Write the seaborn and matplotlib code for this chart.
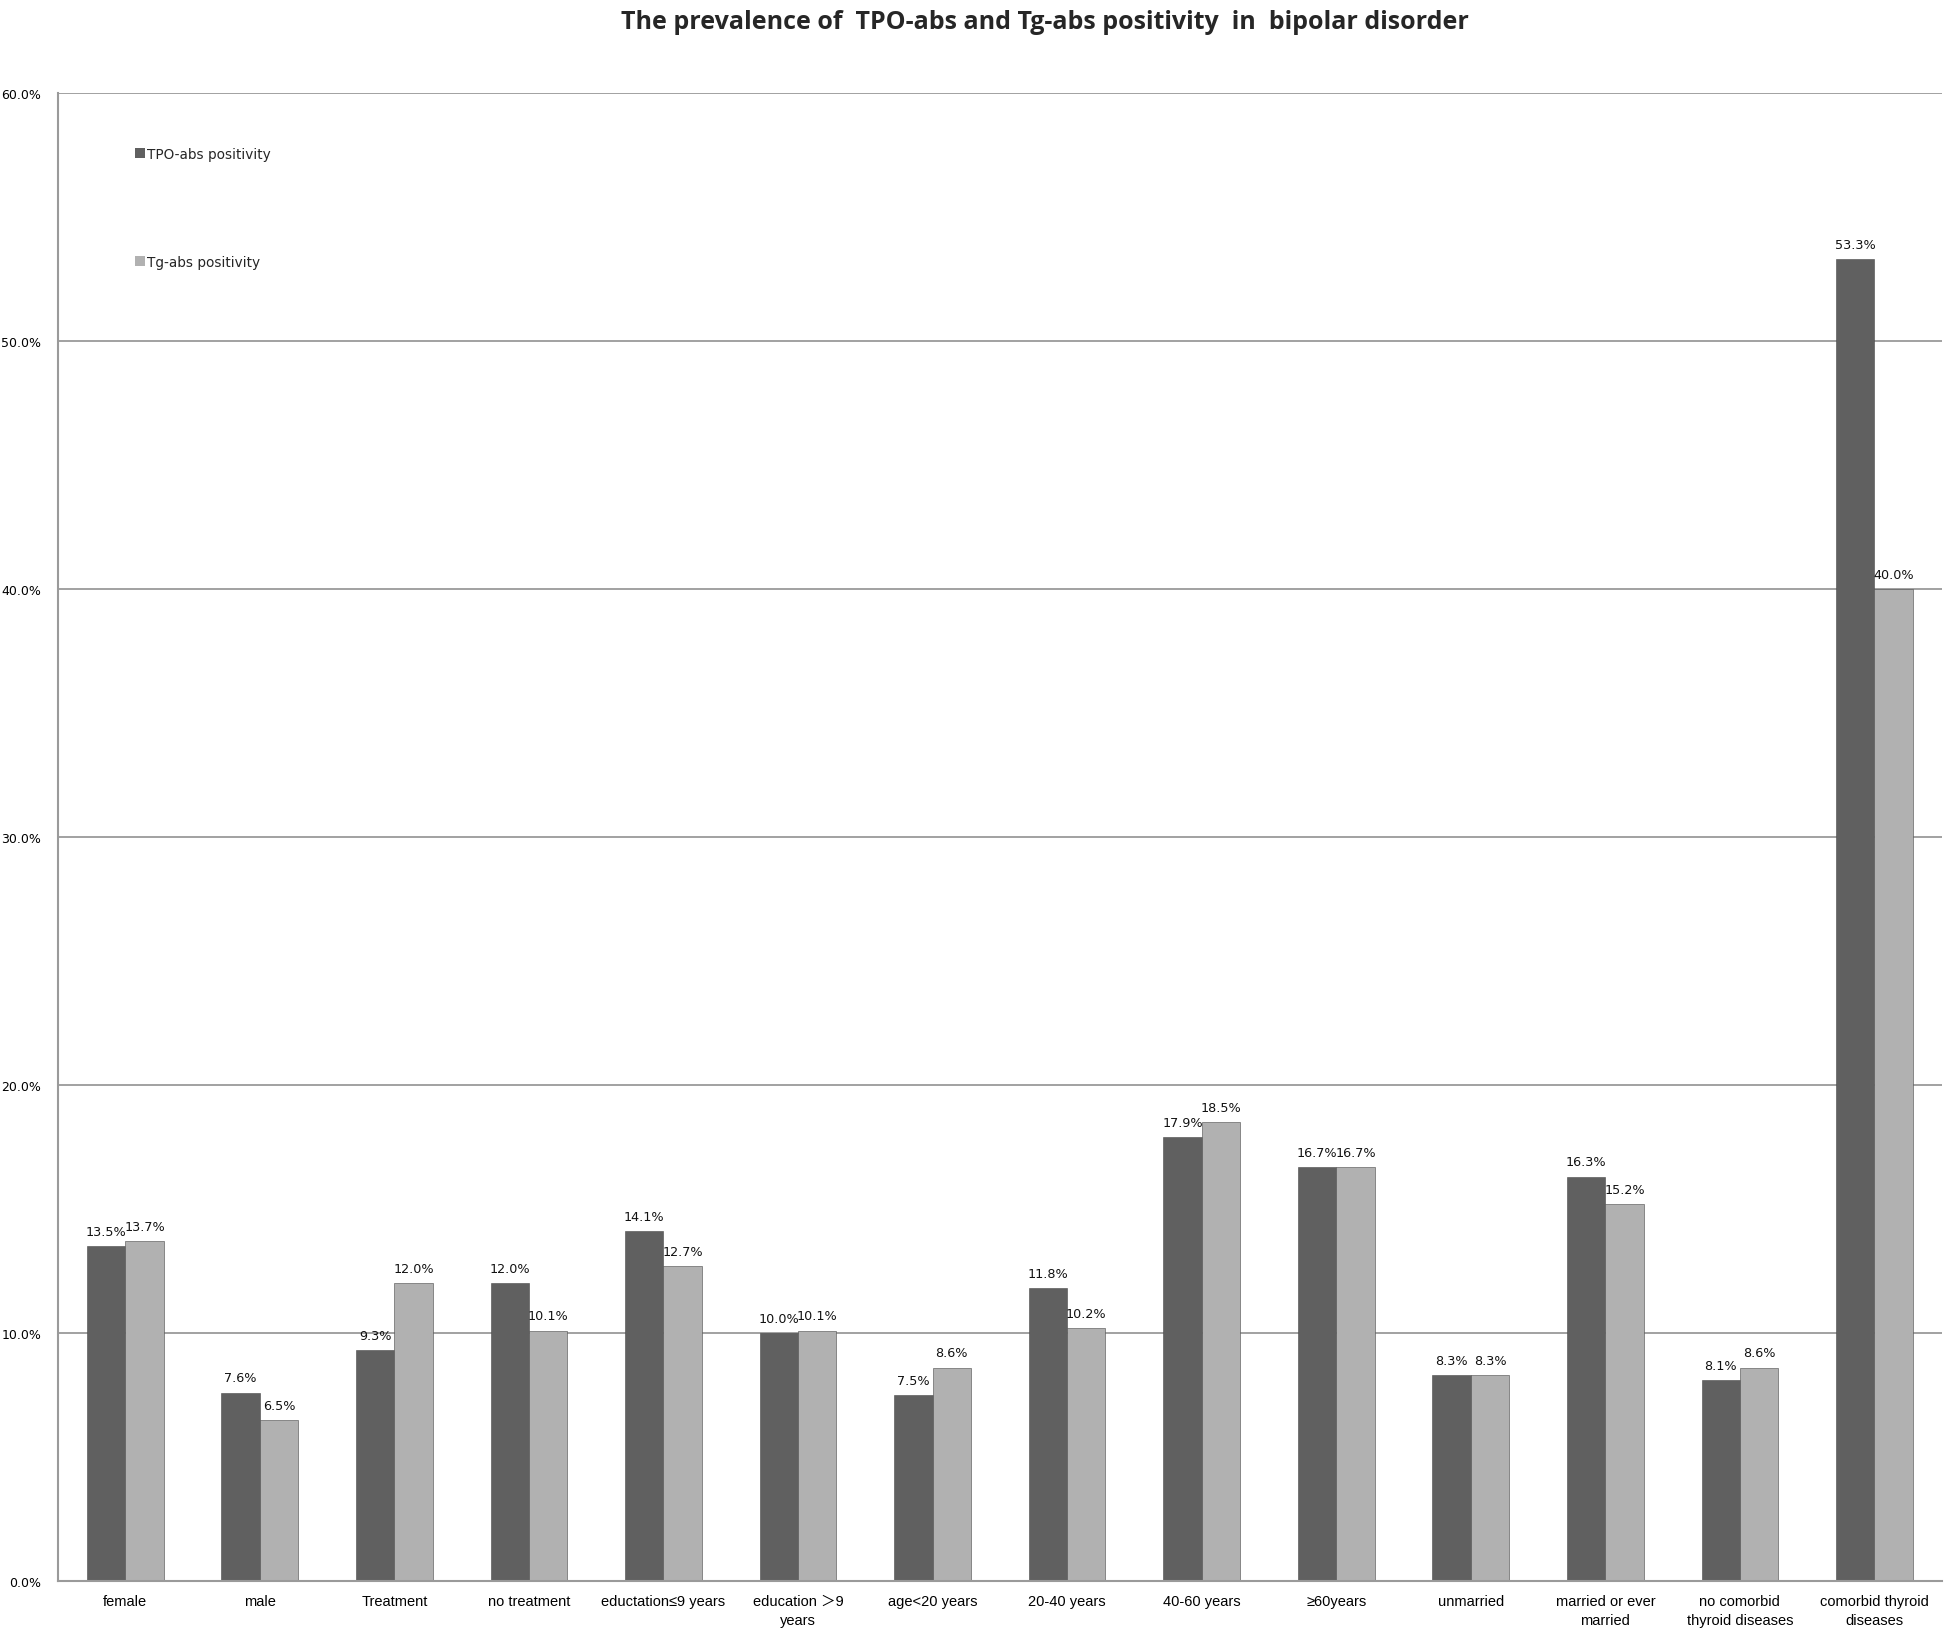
import matplotlib
matplotlib.use("Agg")
import matplotlib.pyplot as plt
import seaborn as sns
import pandas as pd
from matplotlib.patches import Patch
from matplotlib.ticker import FuncFormatter, MultipleLocator
from matplotlib import font_manager

categories = [
    "female", "male", "Treatment", "no treatment", "eductation≤9 years",
    "education ＞9\nyears", "age<20 years", "20-40 years", "40-60 years",
    "≥60years", "unmarried", "married or ever\nmarried",
    "no comorbid\nthyroid diseases", "comorbid thyroid\ndiseases",
]
tpo_values = [13.5, 7.6, 9.3, 12.0, 14.1, 10.0, 7.5, 11.8, 17.9, 16.7, 8.3, 16.3, 8.1, 53.3]
tg_values = [13.7, 6.5, 12.0, 10.1, 12.7, 10.1, 8.6, 10.2, 18.5, 16.7, 8.3, 15.2, 8.6, 40.0]
series_names = ["TPO-abs positivity", "Tg-abs positivity"]
title = "The prevalence of  TPO-abs and Tg-abs positivity  in  bipolar disorder"

df = pd.DataFrame({
    "category": categories * 2,
    "series": [series_names[0]] * len(categories) + [series_names[1]] * len(categories),
    "value": tpo_values + tg_values,
})

sns.set_theme(style="white")
plt.rcParams["font.family"] = ["DejaVu Sans"]

installed = {f.name for f in font_manager.fontManager.ttflist}
narrow = "Liberation Sans Narrow" if "Liberation Sans Narrow" in installed else "Liberation Sans"
cat_family = [narrow, "DejaVu Sans", "Noto Sans CJK SC"]

colors = ["#606060", "#b1b1b1"]
fig = plt.figure(figsize=(19.46, 16.33), dpi=100)
ax = fig.add_axes([0.0298, 0.0312, 0.968, 0.9112])

sns.barplot(data=df, x="category", y="value", hue="series", hue_order=series_names,
            order=categories, palette=colors, width=0.57, ax=ax, legend=False,
            edgecolor="#4a4a4a", linewidth=0.4, saturation=1)

ax.set_ylim(0, 60)
ax.set_xlim(-0.5, len(categories) - 0.5)
ax.yaxis.set_major_locator(MultipleLocator(10))
ax.yaxis.set_major_formatter(FuncFormatter(lambda v, p: f"{v:.1f}%"))
ax.grid(axis="y", color="#9a9a9a", linewidth=1.3)
ax.set_axisbelow(True)
ax.set_xlabel("")
ax.set_ylabel("")
for s in ["top", "right"]:
    ax.spines[s].set_visible(False)
for s in ["left", "bottom"]:
    ax.spines[s].set_color("#9a9a9a")
    ax.spines[s].set_linewidth(1.5)

ax.tick_params(axis="y", length=0, pad=12, labelsize=9, colors="#000000")
ax.tick_params(axis="x", length=0, pad=9, colors="#000000")
for lab in ax.get_xticklabels():
    lab.set_family(cat_family)
    lab.set_fontsize(10.5)
    lab.set_linespacing(1.45)

for cont in ax.containers:
    ax.bar_label(cont, labels=[f"{b.get_height():.1f}%" for b in cont],
                 padding=6, fontsize=9.2, color="#111111")

handles = [Patch(facecolor=c, edgecolor="none") for c in colors]
ax.legend(handles, series_names, loc="upper left", bbox_to_anchor=(0.041, 0.964),
          frameon=False, fontsize=9.8, handlelength=0.75, handleheight=0.75,
          handletextpad=0.15, labelspacing=6.9, borderpad=0, borderaxespad=0)

fig.text(0.537, 0.994, title, ha="center", va="top", fontsize=18, fontweight="bold",
         family=["Open Sans", "DejaVu Sans"])

fig.savefig("out.png", dpi=100)
